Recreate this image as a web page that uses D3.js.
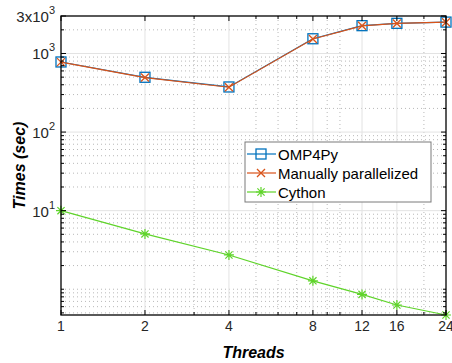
<!DOCTYPE html>
<html>
<head>
<meta charset="utf-8">
<script src="https://cdn.jsdelivr.net/npm/d3@7"></script>
<style>
  body { margin: 0; background: #fff; }
  text { font-family: "Liberation Sans", Arial, sans-serif; }
</style>
</head>
<body>
<svg id="chart" width="452" height="363"></svg>
<script>
// values
var threads = [1, 2, 4, 8, 12, 16, 24];
var omp4py = [780, 498, 375, 1540, 2260, 2420, 2510];
var manual = [776, 494, 372, 1530, 2250, 2410, 2500];
var cython = [10, 5.06, 2.73, 1.28, 0.86, 0.63, 0.47];
var xTicks = [1, 2, 4, 8, 12, 16, 24];
var xMinor = [3, 5, 6, 7, 9, 10, 20];
var yTicks = [10, 100, 1000, 3000];
var yTickExp = ["1", "2", "3", "3"];
var yTickPre = ["10", "10", "10", "3x10"];

// plot box (window.top is taken, so pX names)
var pLeft = 61, pRight = 446, pTop = 16, pBottom = 315;

var svg = d3.select("#chart");

var x = d3.scaleLog().domain([1, 24]).range([pLeft, pRight]);
var y = d3.scaleLog().domain([0.47, 3000]).range([pBottom, pTop]);

// minor y values
var yMinor = [];
[0.1, 1, 10, 100, 1000].forEach(function(dec) {
	for (var k = 1; k <= 9; k++) {
		var v = +(dec * k).toPrecision(3);
		if (v >= 0.47 && v <= 3000 && yTicks.indexOf(v) < 0) yMinor.push(v);
	}
});

// grid
var grid = svg.append("g");
grid.selectAll(".xmin").data(xMinor).enter().append("line")
	.attr("x1", function(d) { return x(d); }).attr("x2", function(d) { return x(d); })
	.attr("y1", pTop).attr("y2", pBottom)
	.attr("stroke", "#b8b8b8").attr("stroke-width", 1).attr("stroke-dasharray", "1,3");
grid.selectAll(".ymin").data(yMinor).enter().append("line")
	.attr("x1", pLeft).attr("x2", pRight)
	.attr("y1", function(d) { return y(d); }).attr("y2", function(d) { return y(d); })
	.attr("stroke", "#b8b8b8").attr("stroke-width", 1).attr("stroke-dasharray", "1,3");
grid.selectAll(".xmaj").data(xTicks.slice(1, 6)).enter().append("line")
	.attr("x1", function(d) { return x(d); }).attr("x2", function(d) { return x(d); })
	.attr("y1", pTop).attr("y2", pBottom)
	.attr("stroke", "#e3e3e3").attr("stroke-width", 1);
grid.selectAll(".ymaj").data(yTicks.slice(0, 3)).enter().append("line")
	.attr("x1", pLeft).attr("x2", pRight)
	.attr("y1", function(d) { return y(d); }).attr("y2", function(d) { return y(d); })
	.attr("stroke", "#e3e3e3").attr("stroke-width", 1);

var series = [
	{ name: "OMP4Py", values: omp4py, color: "#0072BD", marker: "square" },
	{ name: "Manually parallelized", values: manual, color: "#D95319", marker: "cross" },
	{ name: "Cython", values: cython, color: "#5fd42a", marker: "star" }
];

var line = d3.line()
	.x(function(d) { return x(d[0]); })
	.y(function(d) { return y(d[1]); });

function drawMarker(g, type, color) {
	if (type == "square") {
		g.append("rect").attr("x", -5).attr("y", -5).attr("width", 10).attr("height", 10)
			.attr("fill", "none").attr("stroke", color).attr("stroke-width", 1.3);
	} else if (type == "cross") {
		g.append("path").attr("d", "M-4,-4L4,4M-4,4L4,-4")
			.attr("stroke", color).attr("stroke-width", 1.3);
	} else {
		g.append("path").attr("d", "M-5,0L5,0M0,-5L0,5M-3.6,-3.6L3.6,3.6M-3.6,3.6L3.6,-3.6")
			.attr("stroke", color).attr("stroke-width", 1.2);
	}
}

series.forEach(function(s) {
	var pts = threads.map(function(t, i) { return [t, s.values[i]]; });
	svg.append("path").datum(pts)
		.attr("d", line).attr("fill", "none")
		.attr("stroke", s.color).attr("stroke-width", 1.2);
	svg.append("g").selectAll("g").data(pts).enter().append("g")
		.attr("transform", function(d) { return "translate(" + x(d[0]) + "," + y(d[1]) + ")"; })
		.each(function() { drawMarker(d3.select(this), s.marker, s.color); });
});

// axes box
svg.append("rect").attr("x", pLeft).attr("y", pTop)
	.attr("width", pRight - pLeft).attr("height", pBottom - pTop)
	.attr("fill", "none").attr("stroke", "#000").attr("stroke-width", 1.3);

// ticks (inward)
var tk = svg.append("g").attr("stroke", "#000").attr("stroke-width", 1);
xTicks.concat(xMinor).forEach(function(v) {
	var len = xTicks.indexOf(v) >= 0 ? 5 : 3;
	tk.append("line").attr("x1", x(v)).attr("x2", x(v)).attr("y1", pBottom).attr("y2", pBottom - len);
	tk.append("line").attr("x1", x(v)).attr("x2", x(v)).attr("y1", pTop).attr("y2", pTop + len);
});
yTicks.concat(yMinor).forEach(function(v) {
	var len = yTicks.indexOf(v) >= 0 ? 5 : 3;
	tk.append("line").attr("y1", y(v)).attr("y2", y(v)).attr("x1", pLeft).attr("x2", pLeft + len);
	tk.append("line").attr("y1", y(v)).attr("y2", y(v)).attr("x1", pRight).attr("x2", pRight - len);
});

// x tick labels
svg.append("g").selectAll("text").data(xTicks).enter().append("text")
	.attr("x", function(d) { return x(d); }).attr("y", pBottom + 16)
	.attr("text-anchor", "middle").attr("font-size", 14).attr("fill", "#262626")
	.text(function(d) { return d; });

// y tick labels with superscripts
var yl = svg.append("g").selectAll("text").data(yTicks).enter().append("text")
	.attr("x", pLeft - 6).attr("y", function(d) { return y(d) + 6; })
	.attr("text-anchor", "end").attr("font-size", 15).attr("fill", "#262626");
yl.append("tspan").text(function(d, i) { return yTickPre[i]; });
yl.append("tspan").attr("dy", -8).attr("font-size", 11).text(function(d, i) { return yTickExp[i]; });

// axis titles
svg.append("text").attr("x", (pLeft + pRight) / 2).attr("y", 358)
	.attr("text-anchor", "middle").attr("font-size", 16)
	.attr("font-weight", "bold").attr("font-style", "italic").attr("fill", "#000")
	.text("Threads");
svg.append("text").attr("transform", "translate(25," + ((pTop + pBottom) / 2) + ") rotate(-90)")
	.attr("text-anchor", "middle").attr("font-size", 16)
	.attr("font-weight", "bold").attr("font-style", "italic").attr("fill", "#000")
	.text("Times (sec)");

// legend
var lg = svg.append("g").attr("transform", "translate(245,142)");
lg.append("rect").attr("width", 186).attr("height", 60)
	.attr("fill", "#fff").attr("stroke", "#7a7a7a").attr("stroke-width", 1);
series.forEach(function(s, i) {
	var row = lg.append("g").attr("transform", "translate(0," + (12 + i * 19) + ")");
	row.append("line").attr("x1", 2).attr("x2", 31).attr("y1", 0).attr("y2", 0)
		.attr("stroke", s.color).attr("stroke-width", 1.2);
	drawMarker(row.append("g").attr("transform", "translate(16,0)"), s.marker, s.color);
	row.append("text").attr("x", 33).attr("y", 5.5).attr("font-size", 15).attr("fill", "#000")
		.text(s.name);
});
</script>
</body>
</html>
